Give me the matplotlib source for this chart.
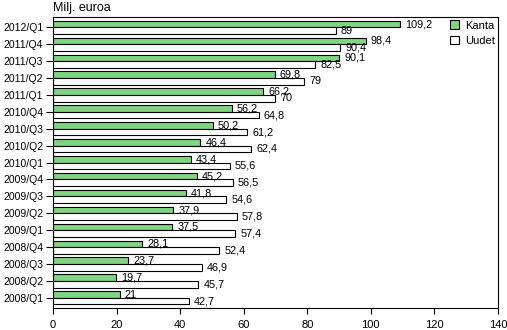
import numpy as np
import matplotlib
matplotlib.use('Agg')
import matplotlib.pyplot as plt
from matplotlib.patches import Patch

plt.rcParams['font.family'] = ['Liberation Sans', 'DejaVu Sans']
plt.rcParams['font.size'] = 8

quarters = ['2008/Q1', '2008/Q2', '2008/Q3', '2008/Q4',
            '2009/Q1', '2009/Q2', '2009/Q3', '2009/Q4',
            '2010/Q1', '2010/Q2', '2010/Q3', '2010/Q4',
            '2011/Q1', '2011/Q2', '2011/Q3', '2011/Q4',
            '2012/Q1']
kanta = [21, 19.7, 23.7, 28.1, 37.5, 37.9, 41.8, 45.2,
         43.4, 46.4, 50.2, 56.2, 66.2, 69.8, 90.1, 98.4, 109.2]
uudet = [42.7, 45.7, 46.9, 52.4, 57.4, 57.8, 54.6, 56.5,
         55.6, 62.4, 61.2, 64.8, 70, 79, 82.5, 90.4, 89]
x_ticks = [0, 20, 40, 60, 80, 100, 120, 140]

green = '#80d680'


def fmt(v):
    s = '{:g}'.format(v)
    return s.replace('.', ',')


fig = plt.figure(figsize=(5.07, 3.30), dpi=100)
ax = fig.add_axes([0.1045, 0.0667, 0.8775, 0.8813])

y = np.arange(len(quarters))
h = 0.39
ax.barh(y + h / 2, kanta, height=h, color=green, edgecolor='black', linewidth=0.8)
ax.barh(y - h / 2, uudet, height=h, color='white', edgecolor='black', linewidth=0.8)

# value labels
for yi, k, u in zip(y, kanta, uudet):
    ax.text(k + 1.6, yi + h / 2, fmt(k), va='center', ha='left', fontsize=7.8)
    ax.text(u + 1.6, yi - h / 2, fmt(u), va='center', ha='left', fontsize=7.8)

ax.set_yticks(y)
ax.set_yticklabels(quarters)
ax.set_ylim(-0.6, len(quarters) - 0.4)
ax.set_xlim(0, 140)
ax.set_xticks(x_ticks)
ax.tick_params(direction='out', length=4, width=0.8, colors='black')
ax.tick_params(axis='y', length=5, pad=2, labelsize=7.5)
ax.tick_params(axis='x', pad=5)
for sp in ax.spines.values():
    sp.set_linewidth(0.8)

ax.text(0, 1.012, 'Milj. euroa', transform=ax.transAxes, fontsize=9,
        ha='left', va='bottom')

handles = [Patch(facecolor=green, edgecolor='black', linewidth=0.8, label='Kanta'),
           Patch(facecolor='white', edgecolor='black', linewidth=0.8, label='Uudet')]
ax.legend(handles=handles, loc='upper right', frameon=False,
          handlelength=0.8, handleheight=0.8, handletextpad=0.5,
          borderaxespad=0.0, borderpad=0.3, labelspacing=0.45)

fig.savefig('out.png', dpi=100)
